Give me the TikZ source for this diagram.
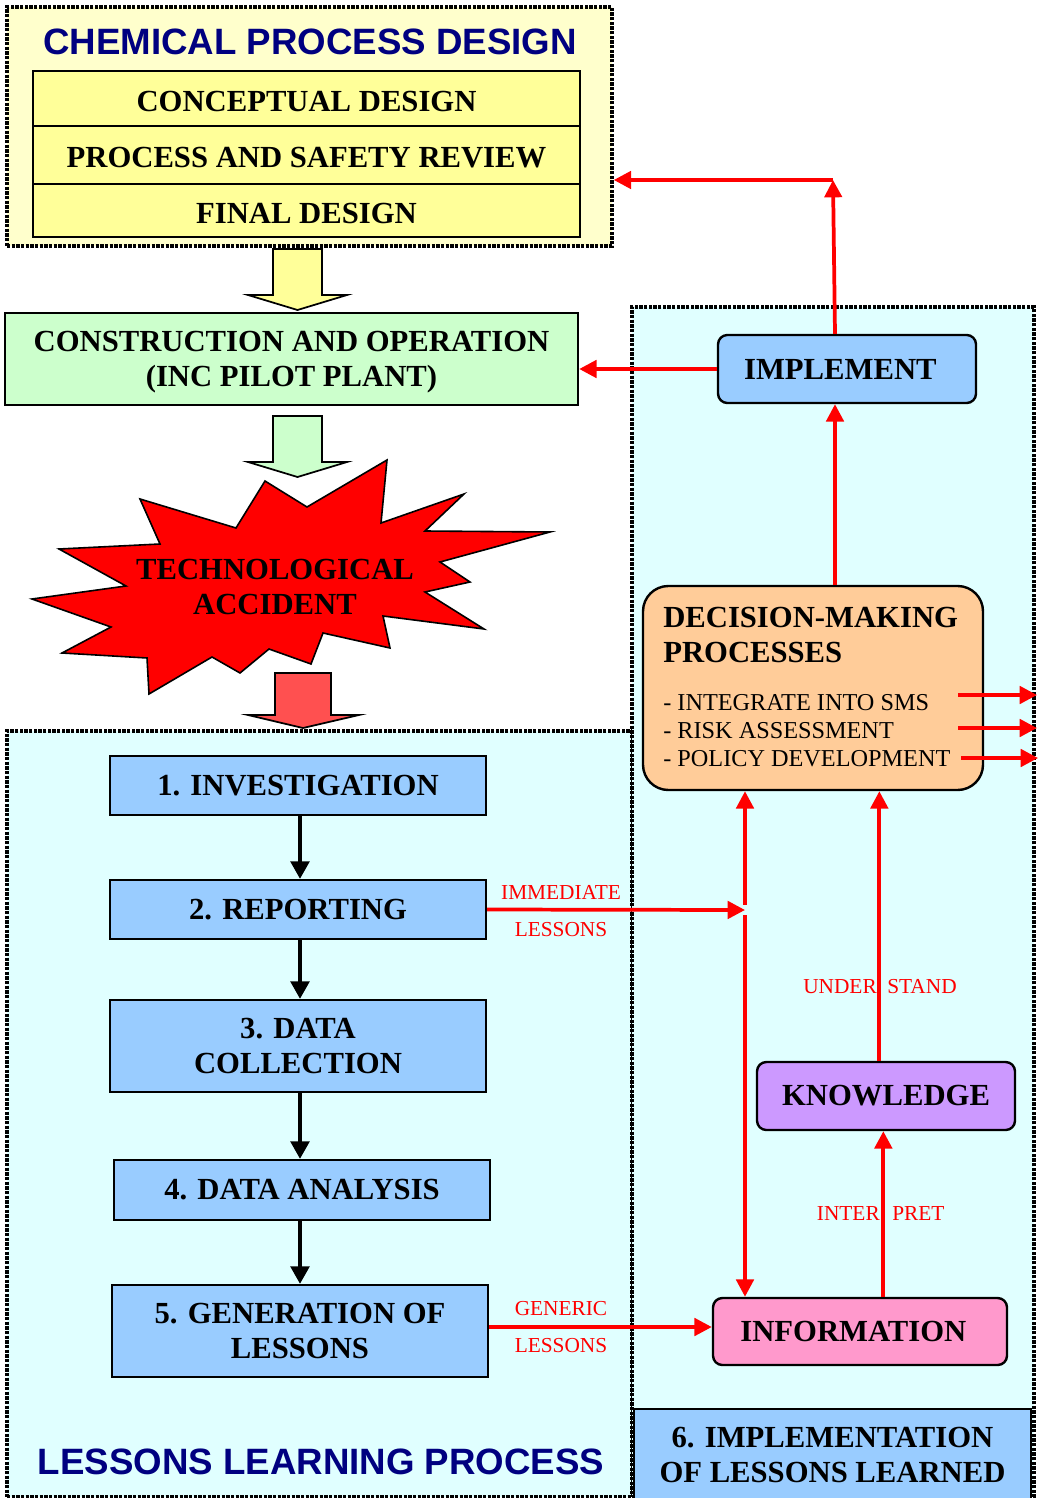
\documentclass[tikz,border=0pt]{standalone}
\usepackage{fontspec}
\setmainfont{Liberation Serif}
\newfontfamily\headsans{Liberation Sans}
\usetikzlibrary{arrows.meta}

\definecolor{paleyellow}{HTML}{FFFFCC}
\definecolor{stageyellow}{HTML}{FFFF99}
\definecolor{palegreen}{HTML}{CCFFCC}
\definecolor{palecyan}{HTML}{E0FFFF}
\definecolor{lightblue}{HTML}{99CCFF}
\definecolor{peach}{HTML}{FFCC99}
\definecolor{lilac}{HTML}{CC99FF}
\definecolor{pink}{HTML}{FF99CC}
\definecolor{navy}{HTML}{000080}
\definecolor{softred}{HTML}{FF5050}

\tikzset{
  container/.style={draw=black, line width=2.6pt, dash pattern=on 2.4pt off 1.1pt, inner sep=0pt},
  stage/.style={draw=black, line width=1.8pt, inner sep=0pt, align=center,
    font=\bfseries\fontsize{23}{26.25}\selectfont},
  lowtext/.style={text height=19.5pt, text depth=0pt},
  roundstage/.style={stage, rounded corners=7pt},
  heading/.style={text=navy, font=\headsans\bfseries\fontsize{27.5}{30}\selectfont},
  tag/.style={text=red, inner sep=0pt, font=\fontsize{16}{19}\selectfont},
  redarrow/.style={draw=red, line width=2.8pt, -{Triangle[length=13pt,width=13pt]}},
  blackarrow/.style={draw=black, line width=2.4pt, -{Triangle[length=13pt,width=14pt]}},
  blockarrow/.style={draw=black, line width=1.3pt}
}

\begin{document}
\begin{tikzpicture}[x=0.75pt, y=-0.75pt]
\useasboundingbox (0,0) rectangle (1038,1498);

% ---- background containers
\node[container, fill=paleyellow, minimum width=453.75pt, minimum height=179.25pt] (cpd) at (309.5,126.5) {};
\node[container, fill=palecyan, minimum width=469.5pt, minimum height=574.5pt] (llp) at (320,1114) {};
\node[container, fill=palecyan, minimum width=301.5pt, minimum height=892.5pt] (ilp) at (833,902) {};

% ---- chemical process design
\node[heading] (cpdtitle) at (310,42) {CHEMICAL PROCESS DESIGN};
\node[stage, lowtext, fill=stageyellow, minimum width=410.25pt, minimum height=41.25pt] (concept) at (306.5,98.5) {CONCEPTUAL DESIGN};
\node[stage, lowtext, fill=stageyellow, minimum width=410.25pt, minimum height=43.5pt] (review) at (306.5,155) {PROCESS AND SAFETY REVIEW};
\node[stage, lowtext, fill=stageyellow, minimum width=410.25pt, minimum height=39.75pt] (finaldes) at (306.5,210.5) {FINAL DESIGN};

% ---- block arrows down the left column
\filldraw[blockarrow, fill=stageyellow] (273,249) -- (322,249) -- (322,295) -- (347,295) -- (297.5,310) -- (248,295) -- (273,295) -- cycle;
\node[stage, fill=palegreen, minimum width=429.75pt, minimum height=69pt] (constr) at (291.5,359) {};
\node[align=center, inner sep=0pt, font=\bfseries\fontsize{23}{26.25}\selectfont] (constrtext) at (291.5,362) {CONSTRUCTION AND OPERATION\\(INC PILOT PLANT)};
\filldraw[blockarrow, fill=palegreen] (273,416) -- (322,416) -- (322,462) -- (347,462) -- (297.5,477) -- (248,462) -- (273,462) -- cycle;

% ---- accident burst
\filldraw[draw=black, line width=1.2pt, fill=red]
  (387,460) -- (381,523) -- (464,494) -- (425,531) -- (550,532) -- (440,562) -- (470,582) --
  (425,592) -- (484,629) -- (383,616) -- (390,648) -- (323,633) -- (311,664) -- (269,649) --
  (240,673) -- (212,657) -- (149,694) -- (147,658) -- (62,653) -- (111,627) -- (32,599) --
  (126,586) -- (59,549) -- (160,544) -- (140,499) -- (236,528) -- (265,481) -- (307,507) -- cycle;
\node[align=center, inner sep=0pt, font=\bfseries\fontsize{23}{26.25}\selectfont] (accident) at (275,587) {TECHNOLOGICAL\\ACCIDENT};
\filldraw[blockarrow, fill=softred] (275,673) -- (331,673) -- (331,715) -- (359,715) -- (303,728) -- (248,715) -- (275,715) -- cycle;

% ---- lessons learning process
\node[stage, fill=lightblue, minimum width=282pt, minimum height=44.25pt] (inv) at (298,785.5) {1. INVESTIGATION};
\node[stage, fill=lightblue, minimum width=282pt, minimum height=44.25pt] (rep) at (298,909.5) {2. REPORTING};
\node[stage, fill=lightblue, minimum width=282pt, minimum height=69pt] (coll) at (298,1046) {3. DATA\\COLLECTION};
\node[stage, fill=lightblue, minimum width=282pt, minimum height=45pt] (anal) at (302,1190) {4. DATA ANALYSIS};
\node[stage, fill=lightblue, minimum width=282pt, minimum height=69pt] (gen) at (300,1331) {5. GENERATION OF\\LESSONS};
\node[heading] (llptitle) at (321,1462) {LESSONS LEARNING PROCESS};

\draw[blackarrow] ([xshift=1.5pt]inv.south) -- ([xshift=1.5pt]rep.north);
\draw[blackarrow] ([xshift=1.5pt]rep.south) -- ([xshift=1.5pt]coll.north);
\draw[blackarrow] ([xshift=1.5pt]coll.south) -- ([xshift=1.5pt]coll.south |- anal.north);
\draw[blackarrow] ([xshift=1.5pt]coll.south |- anal.south) -- ([xshift=1.5pt]coll.south |- gen.north);

% ---- implementation of lessons learned
\node[roundstage, fill=lightblue, minimum width=193.5pt, minimum height=51pt] (impl) at (847,369) {\hspace*{-10pt}IMPLEMENT};
\node[draw=black, line width=1.8pt, fill=peach, rounded corners=19pt, minimum width=255pt, minimum height=153pt] (dec) at (813,688) {};
\node[anchor=west, align=left, inner sep=0pt, font=\bfseries\fontsize{23}{26.25}\selectfont] (dectitle) at (663,635) {DECISION-MAKING\\PROCESSES};
\node[anchor=west, align=left, inner sep=0pt, font=\fontsize{18.2}{21}\selectfont] (declist) at (663,731) {- INTEGRATE INTO SMS\\- RISK ASSESSMENT\\- POLICY DEVELOPMENT};
\node[roundstage, fill=lilac, minimum width=193.5pt, minimum height=51pt] (know) at (886,1096) {KNOWLEDGE};
\node[roundstage, fill=pink, minimum width=220.5pt, minimum height=50.25pt] (info) at (860,1331.5) {\hspace*{-10pt}INFORMATION};
\node[stage, fill=lightblue, minimum width=297.75pt, minimum height=68.25pt] (lessonsix) at (832.5,1454.5) {6. IMPLEMENTATION\\OF LESSONS LEARNED};

% ---- red feedback connectors
\coordinate (bend) at (833,180);
\draw[redarrow] ([xshift=-9pt]impl.north) -- (bend);
\draw[redarrow] (bend) -- (bend -| cpd.east);
\draw[redarrow] (impl.west) -- (impl.west -| constr.east);
\draw[redarrow] ([xshift=-9pt]impl.south |- dec.north) -- ([xshift=-9pt]impl.south);

\coordinate (jn) at (745,910);
\draw[redarrow] (rep.east) -- (jn);
\draw[redarrow] ([yshift=4pt]jn) -- (jn |- dec.south);
\draw[redarrow] ([yshift=-4pt]jn) -- (jn |- info.north);
\node[tag] (imm) at (561,892) {IMMEDIATE};
\node[tag] (immles) at (561,930) {LESSONS};

\draw[redarrow] ([xshift=-5pt]know.north) -- ([xshift=-5pt]know.north |- dec.south);
\node[tag, anchor=east] (under) at (877,987) {UNDER};
\node[tag, anchor=west] (stand) at (887,987) {STAND};
\draw[redarrow] ([xshift=-2pt]know.south |- info.north) -- ([xshift=-2pt]know.south);
\node[tag, anchor=east] (inter) at (880,1214) {INTER};
\node[tag, anchor=west] (pret) at (892,1214) {PRET};

\draw[redarrow] ([yshift=3pt]gen.east) -- ([yshift=3pt]gen.east -| info.west);
\node[tag] (generic) at (561,1309) {GENERIC};
\node[tag] (genles) at (561,1346) {LESSONS};

\coordinate (s1) at (958,695); \coordinate (e1) at (1037,695);
\coordinate (s2) at (958,728); \coordinate (e2) at (1037,728);
\coordinate (s3) at (961,758); \coordinate (e3) at (1038,758);
\draw[redarrow] (s1) -- (e1);
\draw[redarrow] (s2) -- (e2);
\draw[redarrow] (s3) -- (e3);
\end{tikzpicture}
\end{document}
